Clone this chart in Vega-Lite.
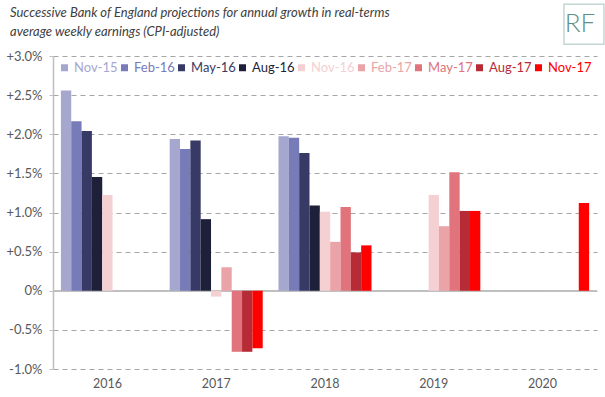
{
  "$schema": "https://vega.github.io/schema/vega-lite/v6.json",
  "width": 544,
  "height": 313,
  "autosize": "none",
  "padding": {"left": 53, "top": 56, "right": 8, "bottom": 28},
  "background": "white",
  "config": {
    "view": {"stroke": null},
    "font": "Lato",
    "axisY": {
      "tickCount": 8,
      "labelOverlap": false,
      "labelExpr": "datum.value == 0 ? '0%' : (datum.value < 0 ? '-' : '+') + format(abs(datum.value), '.1f') + '%'",
      "labelFontSize": 13,
      "labelColor": "#595959",
      "labelPadding": 7,
      "domainColor": "#bfbfbf",
      "domainWidth": 1.5,
      "tickColor": "#bfbfbf",
      "tickSize": 4,
      "tickWidth": 1,
      "grid": true,
      "gridColor": "#a6a6a6",
      "gridDash": [5, 4],
      "gridWidth": 1
    },
    "axisX": {
      "labelAngle": 0,
      "domain": false,
      "ticks": false,
      "labelFontSize": 12.5,
      "labelColor": "#595959",
      "labelPadding": 8,
      "grid": false
    }
  },
  "title": {
    "text": ["Successive Bank of England projections for annual growth in real-terms", "average weekly earnings (CPI-adjusted)"],
    "anchor": "start",
    "frame": "group",
    "dx": -43,
    "dy": 42,
    "fontSize": 13,
    "fontStyle": "italic",
    "fontWeight": "normal",
    "color": "#404040",
    "lineHeight": 19,
    "offset": 4
  },
  "datasets": {
    "proj": [
      {"year": "2016", "series": "Nov-15", "growth": 2.56},
      {"year": "2016", "series": "Feb-16", "growth": 2.165},
      {"year": "2016", "series": "May-16", "growth": 2.04},
      {"year": "2016", "series": "Aug-16", "growth": 1.455},
      {"year": "2016", "series": "Nov-16", "growth": 1.225},
      {"year": "2017", "series": "Nov-15", "growth": 1.94},
      {"year": "2017", "series": "Feb-16", "growth": 1.81},
      {"year": "2017", "series": "May-16", "growth": 1.92},
      {"year": "2017", "series": "Aug-16", "growth": 0.915},
      {"year": "2017", "series": "Nov-16", "growth": -0.075},
      {"year": "2017", "series": "Feb-17", "growth": 0.30},
      {"year": "2017", "series": "May-17", "growth": -0.78},
      {"year": "2017", "series": "Aug-17", "growth": -0.78},
      {"year": "2017", "series": "Nov-17", "growth": -0.735},
      {"year": "2018", "series": "Nov-15", "growth": 1.975},
      {"year": "2018", "series": "Feb-16", "growth": 1.955},
      {"year": "2018", "series": "May-16", "growth": 1.76},
      {"year": "2018", "series": "Aug-16", "growth": 1.09},
      {"year": "2018", "series": "Nov-16", "growth": 1.01},
      {"year": "2018", "series": "Feb-17", "growth": 0.625},
      {"year": "2018", "series": "May-17", "growth": 1.07},
      {"year": "2018", "series": "Aug-17", "growth": 0.49},
      {"year": "2018", "series": "Nov-17", "growth": 0.58},
      {"year": "2019", "series": "Nov-16", "growth": 1.225},
      {"year": "2019", "series": "Feb-17", "growth": 0.825},
      {"year": "2019", "series": "May-17", "growth": 1.515},
      {"year": "2019", "series": "Aug-17", "growth": 1.02},
      {"year": "2019", "series": "Nov-17", "growth": 1.02},
      {"year": "2020", "series": "Nov-17", "growth": 1.12}
    ],
    "logo": [{"year": "2020", "series": "Nov-17", "pos": 3.405, "label": "RF"}]
  },
  "layer": [
    {
      "data": {"name": "proj"},
      "mark": {"type": "rule", "color": "#bfbfbf", "strokeWidth": 1.5},
      "encoding": {
        "y": {"datum": 0, "type": "quantitative", "title": null, "scale": {"domain": [-1, 3], "nice": false, "zero": false}}
      }
    },
    {
      "data": {"name": "proj"},
      "mark": {"type": "bar"},
      "encoding": {
        "x": {
          "field": "year", "type": "nominal", "title": null,
          "scale": {"domain": ["2016", "2017", "2018", "2019", "2020"], "paddingInner": 0.145, "paddingOuter": 0.0725}
        },
        "xOffset": {
          "field": "series", "type": "nominal",
          "scale": {"domain": ["Nov-15", "Feb-16", "May-16", "Aug-16", "Nov-16", "Feb-17", "May-17", "Aug-17", "Nov-17"], "paddingInner": 0, "paddingOuter": 0}
        },
        "y": {
          "field": "growth", "type": "quantitative", "title": null,
          "scale": {"domain": [-1, 3], "nice": false, "zero": false}
        },
        "color": {
          "field": "series", "type": "nominal",
          "scale": {
            "domain": ["Nov-15", "Feb-16", "May-16", "Aug-16", "Nov-16", "Feb-17", "May-17", "Aug-17", "Nov-17"],
            "range": ["#a5a7cf", "#777bb8", "#383a66", "#1e1f38", "#f5d0d3", "#eaa3a7", "#e0737b", "#b72b36", "#ff0000"]
          },
          "legend": {
            "title": null,
            "orient": "top-left",
            "offset": 5,
            "direction": "horizontal",
            "columns": 9,
            "symbolType": "square",
            "symbolSize": 49,
            "symbolStrokeWidth": 0,
            "labelFontSize": 13,
            "labelOffset": 3,
            "columnPadding": -4,
            "encode": {"labels": {"update": {"fill": {"scale": "color", "field": "value"}}}}
          }
        }
      }
    },
    {
      "data": {"name": "logo"},
      "mark": {"type": "point", "shape": "square", "size": 1600, "filled": true, "fill": "white", "stroke": "#a9c7c2", "strokeWidth": 1.5, "dx": -4},
      "encoding": {
        "x": {"field": "year", "type": "nominal", "title": null},
        "xOffset": {"field": "series", "type": "nominal"},
        "y": {"field": "pos", "type": "quantitative", "title": null}
      }
    },
    {
      "data": {"name": "logo"},
      "mark": {"type": "text", "fontSize": 26, "color": "#5e908a", "font": "Lato", "fontWeight": 300, "dx": -4},
      "encoding": {
        "x": {"field": "year", "type": "nominal", "title": null},
        "xOffset": {"field": "series", "type": "nominal"},
        "y": {"field": "pos", "type": "quantitative", "title": null},
        "text": {"field": "label"}
      }
    }
  ]
}
